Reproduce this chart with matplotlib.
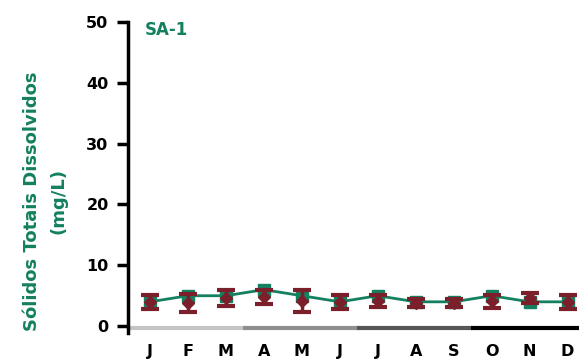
import numpy as np
import matplotlib
matplotlib.use("Agg")
import matplotlib.pyplot as plt

months = ["J", "F", "M", "A", "M", "J", "J", "A", "S", "O", "N", "D"]
sdt_site = [4, 5, 5, 6, 5, 4, 5, 4, 4, 5, 4, 4]
sdt_mean = [4.0, 3.8, 4.6, 4.8, 4.2, 4.0, 4.1, 3.8, 3.8, 4.1, 4.6, 4.0]
sdt_err = [1.2, 1.5, 1.3, 1.2, 1.8, 1.1, 1.0, 0.7, 0.6, 1.1, 0.8, 1.1]

green = "#13805f"
maroon = "#7b1f2b"

fig = plt.figure(figsize=(5.79, 3.6), dpi=100)
ax = fig.add_axes([0.221, 0.094, 0.779, 0.845])
x = np.arange(len(months))

ax.errorbar(x, sdt_mean, yerr=sdt_err, fmt="D", color=maroon, ms=6,
            ecolor=maroon, elinewidth=2.5, capsize=6.5, capthick=3, zorder=3)
ax.plot(x, sdt_site, color=green, lw=2, marker="s", ms=8, zorder=2)

# seasonal base line under the months
season_cols = ["#c4c4c4", "#8e8e8e", "#555555", "#000000"]
for i, c in enumerate(season_cols):
    ax.hlines(-0.3, i * 3 - 0.55, i * 3 + 2.5 if i < 3 else 11.4, color=c,
              lw=3, clip_on=False, zorder=1)

ax.set_xlim(-0.58, 11.3)
ax.set_ylim(0, 50)
ax.set_yticks([0, 10, 20, 30, 40, 50])
ax.set_xticks(x)
ax.set_xticklabels(months)

for s in ["top", "right", "bottom"]:
    ax.spines[s].set_visible(False)
ax.spines["left"].set_linewidth(2.5)
ax.spines["left"].set_bounds(-1.2, 50)
ax.tick_params(axis="y", length=8, width=2.5, labelsize=11.5, pad=6)
ax.tick_params(axis="x", length=0, labelsize=11.5, pad=13)
for lbl in ax.get_xticklabels() + ax.get_yticklabels():
    lbl.set_fontweight("bold")

ax.set_ylabel("Sólidos Totais Dissolvidos\n(mg/L)", color=green,
              fontsize=13, fontweight="bold", linespacing=1.6)
ax.yaxis.set_label_coords(-0.135, 0.41)
ax.text(0.038, 0.975, "SA-1", transform=ax.transAxes, color=green,
        fontsize=12, fontweight="bold", va="center")

plt.savefig("out.png", dpi=100)
